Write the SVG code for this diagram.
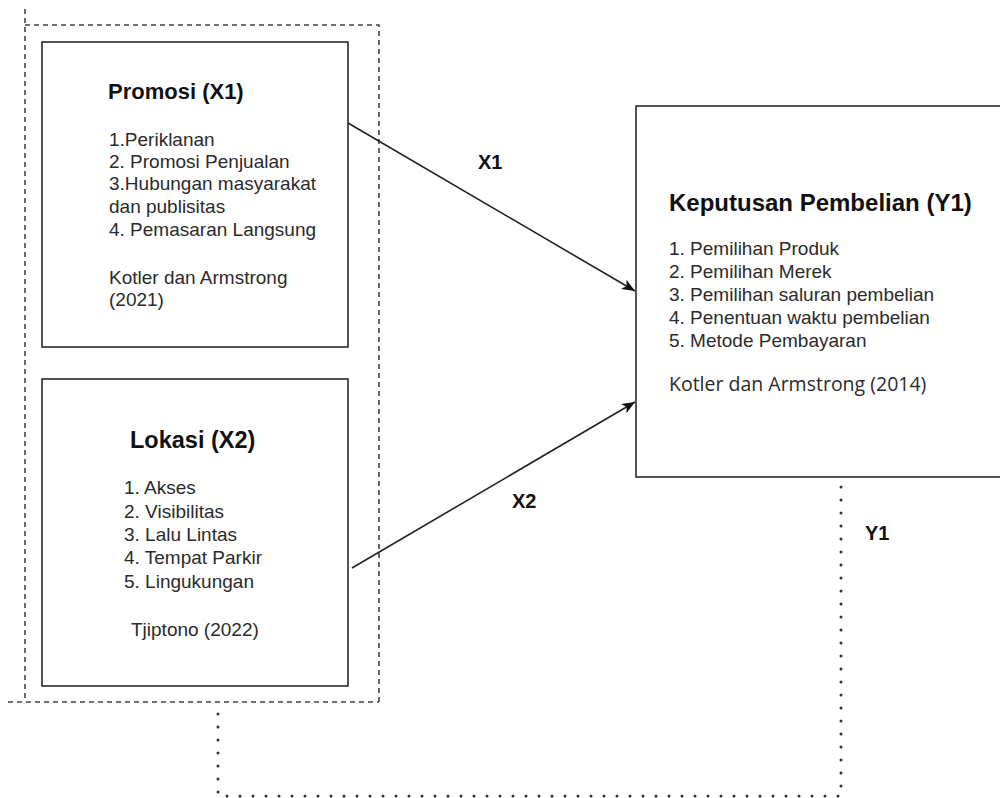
<svg xmlns="http://www.w3.org/2000/svg" width="1000" height="798" viewBox="0 0 1000 798">
<defs>
<style>
.box{fill:#fff;stroke:#2a2a2a;stroke-width:1.6}
.title{font-family:"Liberation Sans",Arial,sans-serif;font-weight:bold;fill:#111}
.body{font-family:"Liberation Sans",Arial,sans-serif;font-size:19px;fill:#2b2b2b}
.lbl{font-family:"Liberation Sans",Arial,sans-serif;font-weight:bold;font-size:20px;fill:#111}
.dash{fill:none;stroke:#444;stroke-width:1.6;stroke-dasharray:5 4}
.dot{fill:none;stroke:#333;stroke-width:3;stroke-dasharray:0 13;stroke-linecap:round}
.arr{fill:none;stroke:#222;stroke-width:1.6}
</style>
<marker id="ahb" viewBox="0 0 12 10" refX="12" refY="5" markerWidth="13" markerHeight="11" markerUnits="userSpaceOnUse" orient="auto">
<path d="M0,0 L12,5 L0,10 L3,5 z" fill="#111"/>
</marker>
</defs>
<rect width="1000" height="798" fill="#fff"/>

<g id="frame">
<path class="dash" d="M25,9 L25,702"/>
<path class="dash" d="M25,25 L379,25 L379,702"/>
<path class="dash" d="M8,702 L379,702"/>
</g>

<g id="promosi">
<rect class="box" x="42" y="42" width="306" height="305"/>
<text class="title" x="108" y="99" font-size="22">Promosi (X1)</text>
<text class="body" x="109" y="146">1.Periklanan</text>
<text class="body" x="109" y="168">2. Promosi Penjualan</text>
<text class="body" x="109" y="190">3.Hubungan masyarakat</text>
<text class="body" x="109" y="213">dan publisitas</text>
<text class="body" x="109" y="236">4. Pemasaran Langsung</text>
<text class="body" x="109" y="284">Kotler dan Armstrong</text>
<text class="body" x="109" y="306">(2021)</text>
</g>

<g id="lokasi">
<rect class="box" x="42" y="379" width="306" height="307"/>
<text class="title" x="130" y="448" font-size="23.5">Lokasi (X2)</text>
<text class="body" x="124" y="494">1. Akses</text>
<text class="body" x="124" y="518">2. Visibilitas</text>
<text class="body" x="124" y="541">3. Lalu Lintas</text>
<text class="body" x="124" y="564">4. Tempat Parkir</text>
<text class="body" x="124" y="588">5. Lingukungan</text>
<text class="body" x="131" y="636">Tjiptono (2022)</text>
</g>

<g id="keputusan">
<rect class="box" x="636" y="106" width="370" height="371"/>
<text class="title" x="669" y="211" font-size="24">Keputusan Pembelian (Y1)</text>
<text class="body" x="669" y="255">1. Pemilihan Produk</text>
<text class="body" x="669" y="278">2. Pemilihan Merek</text>
<text class="body" x="669" y="301">3. Pemilihan saluran pembelian</text>
<text class="body" x="669" y="324">4. Penentuan waktu pembelian</text>
<text class="body" x="669" y="347">5. Metode Pembayaran</text>
<text x="669" y="391" font-family="'Open Sans',sans-serif" font-size="19.5" fill="#2b2b2b">Kotler dan Armstrong (2014)</text>
</g>

<g id="connectors">
<line class="arr" x1="348" y1="123" x2="635" y2="291" marker-end="url(#ahb)"/>
<line class="arr" x1="352" y1="568" x2="635" y2="402" marker-end="url(#ahb)"/>
<path class="dot" d="M841,487 L841,796 L218,796 L218,707"/>
<text class="lbl" x="478" y="169">X1</text>
<text class="lbl" x="512" y="508">X2</text>
<text class="lbl" x="865" y="540">Y1</text>
</g>
</svg>
